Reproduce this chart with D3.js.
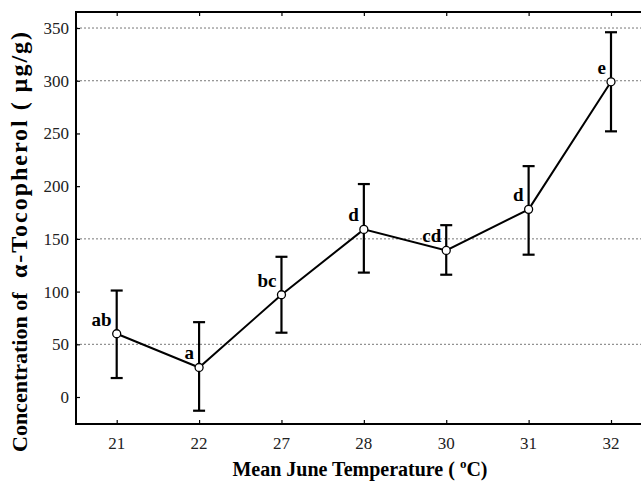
<!DOCTYPE html>
<html>
<head>
<meta charset="utf-8">
<script src="https://cdn.jsdelivr.net/npm/d3@7"></script>
<style>
  body { margin: 0; background: #fff; }
  svg { display: block; }
</style>
</head>
<body>
<div id="chart"></div>
<script>
// Values
const temps = ['21', '22', '27', '28', '30', '31', '32'];
const means = [60, 28, 97, 159, 139, 178, 299];
const upper = [101, 71, 133, 202, 163, 219, 346];
const lower = [18, -13, 61, 118, 116, 135, 252];
const groups = ['ab', 'a', 'bc', 'd', 'cd', 'd', 'e'];
const yTicks = [0, 50, 100, 150, 200, 250, 300, 350];
const gridValues = [50, 150, 300, 350];

const width = 641, height = 487;
const plotLeft = 76, plotTop = 12, plotBottom = 424, plotRight = 660;

const svg = d3.select('#chart').append('svg')
    .attr('width', width)
    .attr('height', height);

const x = d3.scalePoint().domain(temps).range([116.7, 611]);
const y = d3.scaleLinear().domain([-25.6, 365.2]).range([plotBottom, plotTop]);

const serif = '"Liberation Serif", "Times New Roman", serif';

// Dotted grid lines
svg.append('g')
    .selectAll('line')
    .data(gridValues)
    .enter()
    .append('line')
    .attr('x1', plotLeft)
    .attr('x2', plotRight)
    .attr('y1', d => y(d))
    .attr('y2', d => y(d))
    .attr('stroke', '#777')
    .attr('stroke-width', 1)
    .attr('stroke-dasharray', '2,2');

// Y axis: inward ticks, labels on the left
const yAxis = svg.append('g')
    .attr('transform', `translate(${plotLeft},0)`)
    .call(d3.axisRight(y).tickValues(yTicks).tickSize(4).tickFormat(''));
yAxis.select('.domain').remove();
yAxis.selectAll('line').attr('stroke', '#000').attr('stroke-width', 1.2);

svg.append('g')
    .selectAll('text')
    .data(yTicks)
    .enter()
    .append('text')
    .attr('x', 69)
    .attr('y', d => y(d) + 6)
    .attr('text-anchor', 'end')
    .attr('font-family', serif)
    .attr('font-size', 17)
    .attr('fill', '#222')
    .text(d => d);

// X axis: ticks pointing up from the bottom frame
const xAxis = svg.append('g')
    .attr('transform', `translate(0,${plotBottom})`)
    .call(d3.axisTop(x).tickSize(4).tickFormat(''));
xAxis.select('.domain').remove();
xAxis.selectAll('line').attr('stroke', '#000').attr('stroke-width', 1.2);

// Top ticks pointing down
const xTop = svg.append('g')
    .attr('transform', `translate(0,${plotTop})`)
    .call(d3.axisBottom(x).tickSize(4).tickFormat(''));
xTop.select('.domain').remove();
xTop.selectAll('line').attr('stroke', '#000').attr('stroke-width', 1.2);

svg.append('g')
    .selectAll('text')
    .data(temps)
    .enter()
    .append('text')
    .attr('x', d => x(d))
    .attr('y', 449)
    .attr('text-anchor', 'middle')
    .attr('font-family', serif)
    .attr('font-size', 17)
    .attr('fill', '#222')
    .text(d => d);

// Frame
svg.append('rect')
    .attr('x', plotLeft)
    .attr('y', plotTop)
    .attr('width', plotRight - plotLeft)
    .attr('height', plotBottom - plotTop)
    .attr('fill', 'none')
    .attr('stroke', '#000')
    .attr('stroke-width', 2);

const rows = temps.map((t, i) => ({
    t, mean: means[i], hi: upper[i], lo: lower[i], g: groups[i]
}));

// Error bars
const bars = svg.append('g');
bars.selectAll('.stem')
    .data(rows)
    .enter()
    .append('line')
    .attr('x1', d => x(d.t))
    .attr('x2', d => x(d.t))
    .attr('y1', d => y(d.hi))
    .attr('y2', d => y(d.lo))
    .attr('stroke', '#000')
    .attr('stroke-width', 2.2);

['hi', 'lo'].forEach(k => {
    bars.selectAll('.cap-' + k)
        .data(rows)
        .enter()
        .append('line')
        .attr('x1', d => x(d.t) - 6)
        .attr('x2', d => x(d.t) + 6)
        .attr('y1', d => y(d[k]))
        .attr('y2', d => y(d[k]))
        .attr('stroke', '#000')
        .attr('stroke-width', 2.2);
});

// Mean line
const line = d3.line()
    .x(d => x(d.t))
    .y(d => y(d.mean));

svg.append('path')
    .datum(rows)
    .attr('d', line)
    .attr('fill', 'none')
    .attr('stroke', '#000')
    .attr('stroke-width', 2);

svg.append('g')
    .selectAll('circle')
    .data(rows)
    .enter()
    .append('circle')
    .attr('cx', d => x(d.t))
    .attr('cy', d => y(d.mean))
    .attr('r', 4)
    .attr('fill', '#fff')
    .attr('stroke', '#000')
    .attr('stroke-width', 1.3);

// Group letters
svg.append('g')
    .selectAll('text')
    .data(rows)
    .enter()
    .append('text')
    .attr('x', d => x(d.t) - 5)
    .attr('y', d => y(d.mean) - 8)
    .attr('text-anchor', 'end')
    .attr('font-family', serif)
    .attr('font-weight', 'bold')
    .attr('font-size', 19)
    .text(d => d.g);

// Axis titles
const xt = svg.append('text')
    .attr('x', 360)
    .attr('y', 476)
    .attr('text-anchor', 'middle')
    .attr('font-family', serif)
    .attr('font-weight', 'bold')
    .attr('font-size', 20);
xt.append('tspan').text('Mean June Temperature ( ');
xt.append('tspan').attr('dy', -8).attr('font-size', 13).text('o');
xt.append('tspan').attr('dy', 8).text('C)');

// Y title is set in two pieces, as in the original
svg.append('text')
    .attr('transform', 'translate(27,452) rotate(-90)')
    .attr('text-anchor', 'start')
    .attr('font-family', serif)
    .attr('font-weight', 'bold')
    .attr('font-size', 22)
    .text('Concentration of');

svg.append('text')
    .attr('transform', 'translate(27,278) rotate(-90)')
    .attr('text-anchor', 'start')
    .attr('font-family', serif)
    .attr('font-weight', 'bold')
    .attr('font-size', 24)
    .attr('textLength', 246)
    .attr('lengthAdjust', 'spacing')
    .text('α-Tocopherol ( µg/g)');
</script>
</body>
</html>
